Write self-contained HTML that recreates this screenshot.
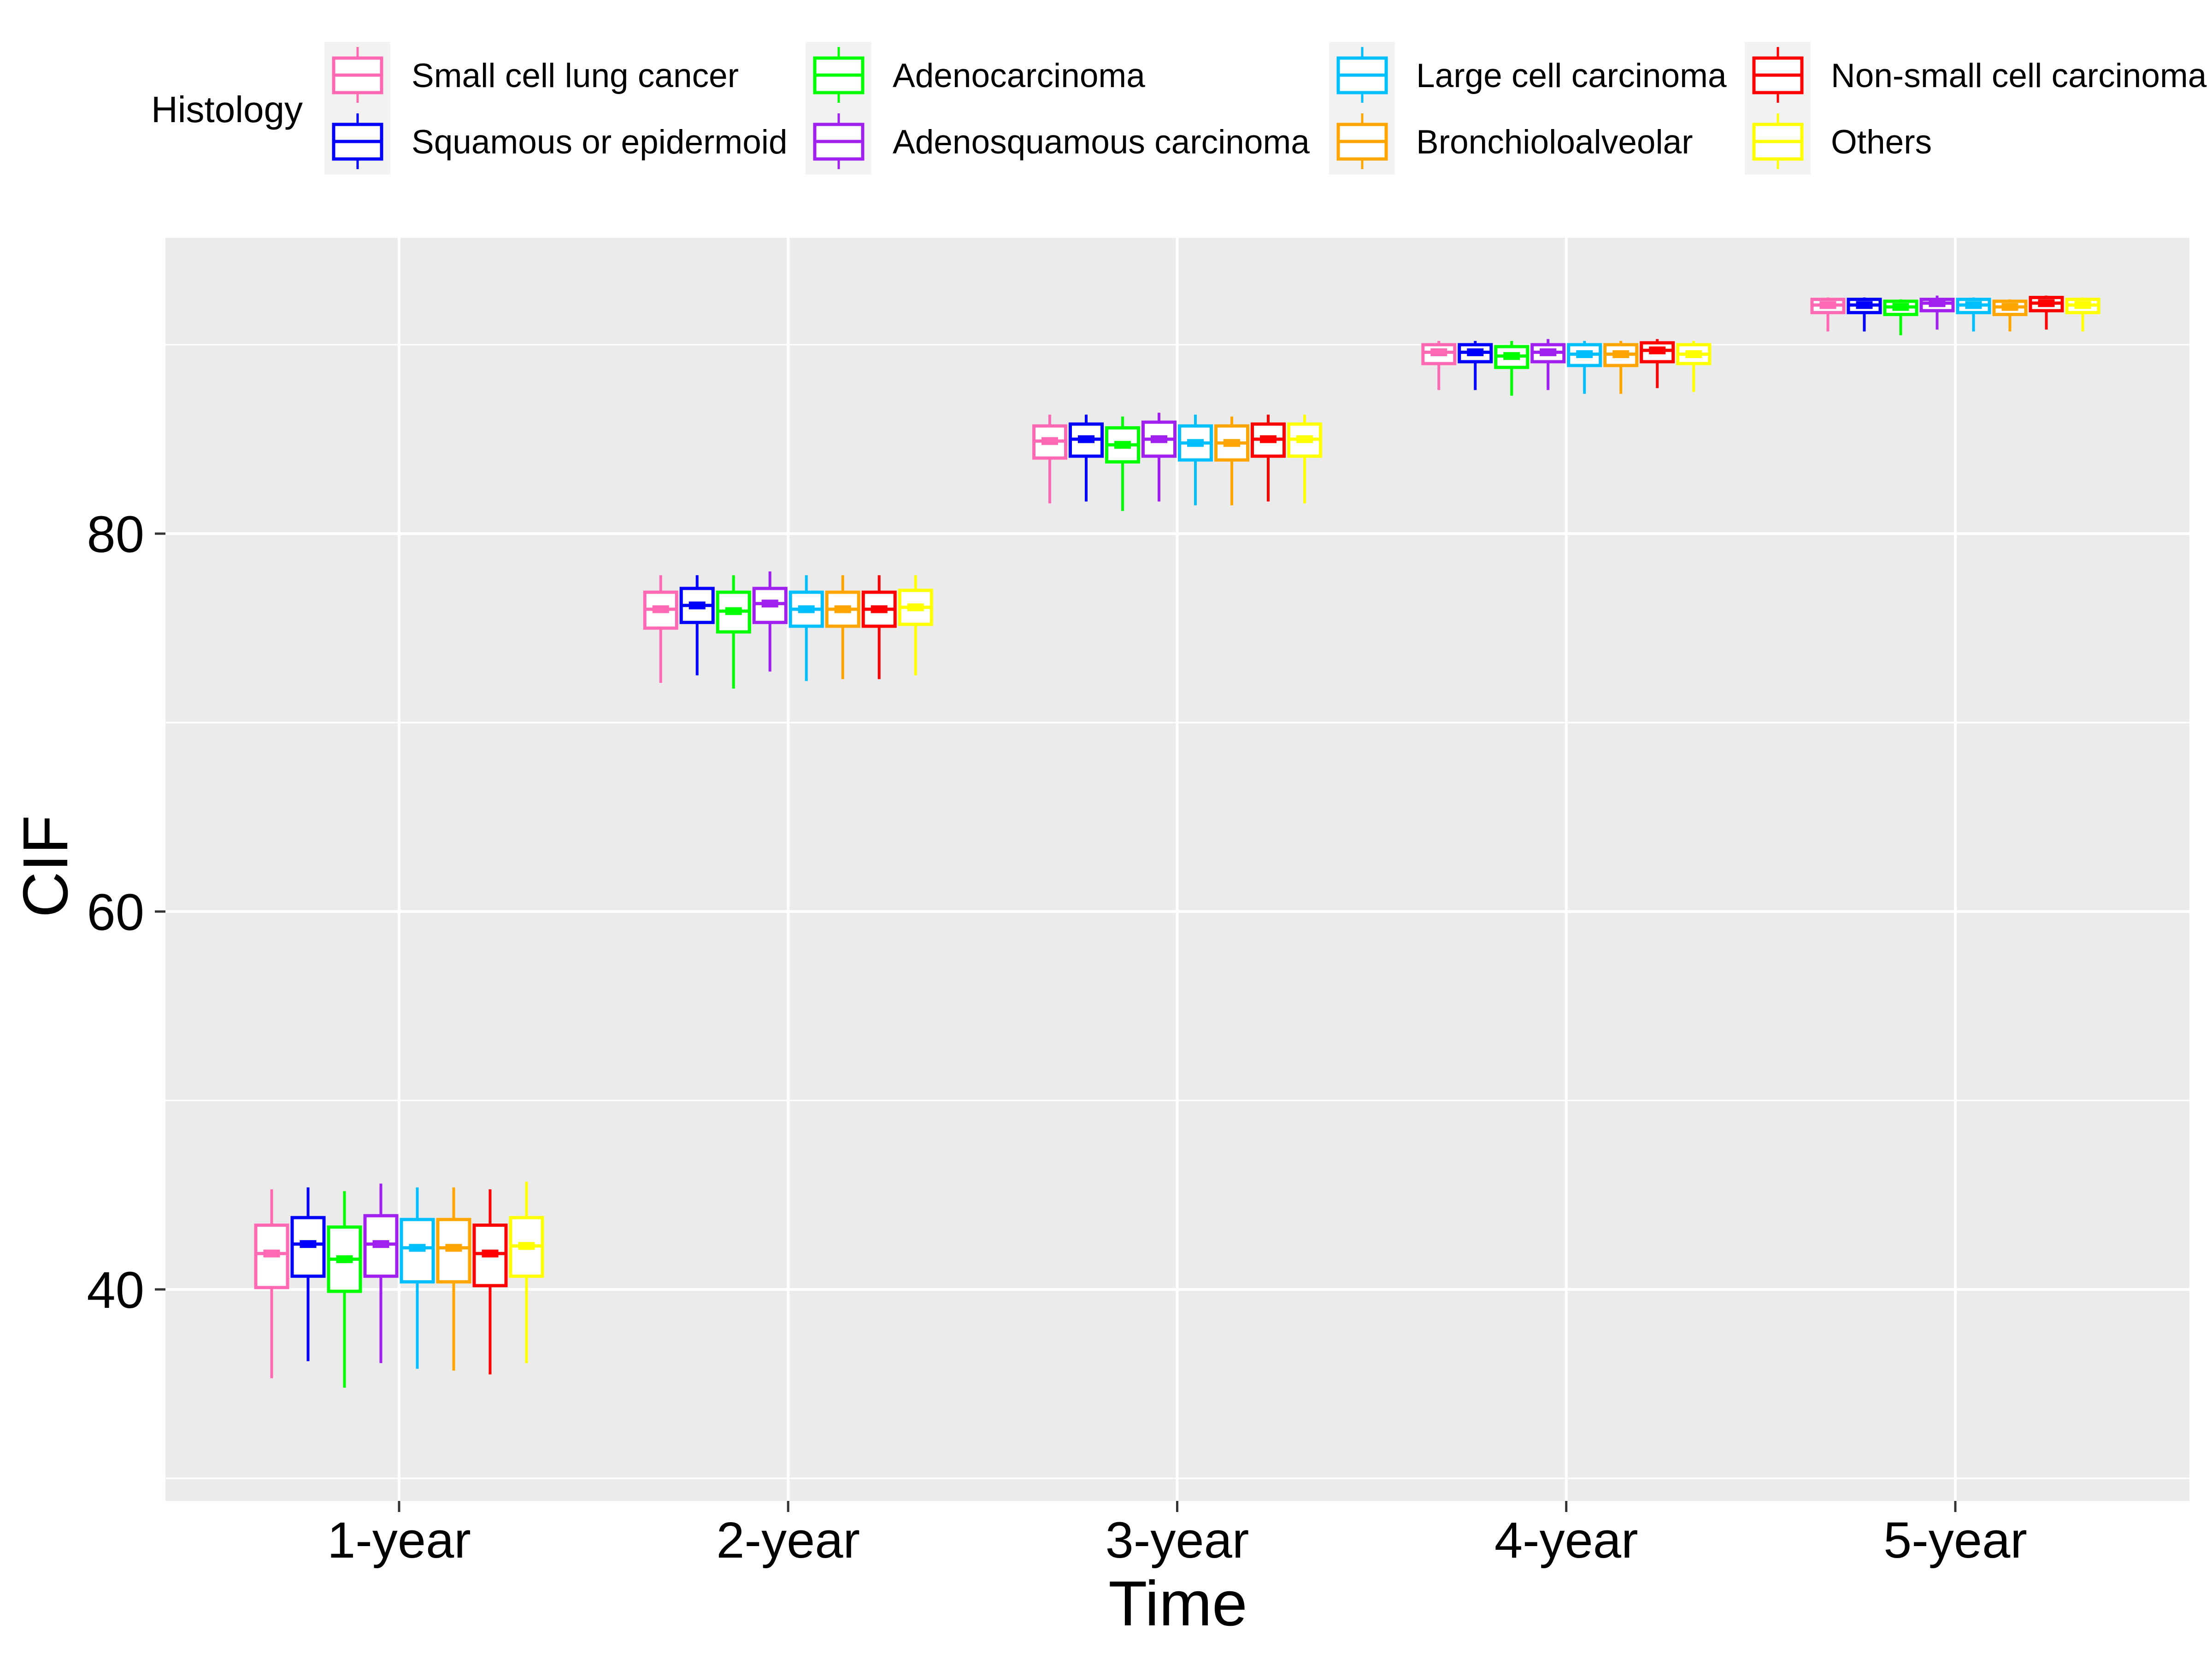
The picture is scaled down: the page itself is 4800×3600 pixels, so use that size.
<!DOCTYPE html>
<html><head><meta charset="utf-8"><style>
html,body{margin:0;padding:0;background:#fff}
svg{display:block}
text{font-family:"Liberation Sans",Arial,sans-serif}
</style></head><body>
<svg id="chart" width="4800" height="3600" viewBox="0 0 4800 3600" xmlns="http://www.w3.org/2000/svg">
<rect x="0" y="0" width="4800" height="3600" fill="#fff"/>
<rect x="359" y="516" width="4392" height="2741" fill="#EBEBEB"/>
<g id="grid"></g><g id="boxes"></g><g id="axes"></g><g id="legend"></g>
<text x="2556" y="3527" font-size="138" text-anchor="middle">Time</text>
<text x="0" y="0" font-size="138" text-anchor="middle" transform="translate(146,1880) rotate(-90)">CIF</text>
<text x="328" y="265" font-size="80">Histology</text>
</svg>
<script>
const categories = ["1-year","2-year","3-year","4-year","5-year"];
const seriesNames = ["Small cell lung cancer","Squamous or epidermoid","Adenocarcinoma","Adenosquamous carcinoma","Large cell carcinoma","Bronchioloalveolar","Non-small cell carcinoma","Others"];
const seriesColors = ["#FF69B4","#0000FF","#00FF00","#A020F0","#00BFFF","#FFA500","#FF0000","#FFFF00"];
const yTicks = [40,60,80];
const yMinor = [30,50,70,90];
// per series: values for 1..5 year
const lowW = [[35.3,72.1,81.6,87.6,90.7],[36.2,72.5,81.7,87.6,90.7],[34.8,71.8,81.2,87.3,90.5],[36.1,72.7,81.7,87.6,90.8],[35.8,72.2,81.5,87.4,90.7],[35.7,72.3,81.5,87.4,90.7],[35.5,72.3,81.7,87.7,90.8],[36.1,72.5,81.6,87.5,90.7]];
const q1 = [[40.1,75.0,84.0,89.0,91.7],[40.7,75.3,84.1,89.1,91.7],[39.9,74.8,83.8,88.8,91.6],[40.7,75.3,84.1,89.1,91.8],[40.4,75.1,83.9,88.9,91.7],[40.4,75.1,83.9,88.9,91.6],[40.2,75.1,84.1,89.1,91.8],[40.7,75.2,84.1,89.0,91.7]];
const med = [[41.9,76.0,84.9,89.6,92.1],[42.4,76.2,85.0,89.6,92.1],[41.6,75.9,84.7,89.4,92.0],[42.4,76.3,85.0,89.6,92.2],[42.2,76.0,84.8,89.5,92.1],[42.2,76.0,84.8,89.5,92.0],[41.9,76.0,85.0,89.7,92.2],[42.3,76.1,85.0,89.5,92.1]];
const q3 = [[43.4,76.9,85.7,90.0,92.4],[43.8,77.1,85.8,90.0,92.4],[43.3,76.9,85.6,89.9,92.3],[43.9,77.1,85.9,90.0,92.4],[43.7,76.9,85.7,90.0,92.4],[43.7,76.9,85.7,90.0,92.3],[43.4,76.9,85.8,90.1,92.5],[43.8,77.0,85.8,90.0,92.4]];
const highW = [[45.3,77.8,86.3,90.2,92.5],[45.4,77.8,86.3,90.2,92.5],[45.2,77.8,86.2,90.2,92.4],[45.6,78.0,86.4,90.3,92.6],[45.4,77.8,86.3,90.2,92.5],[45.4,77.8,86.2,90.2,92.4],[45.3,77.8,86.3,90.3,92.6],[45.7,77.8,86.3,90.2,92.5]];

const NS="http://www.w3.org/2000/svg";
const PX0=359,PX1=4751,PY0=516,PY1=3257;
function yS(v){return 1158+(80-v)*41;}
function xS(i){return 866+i*844.25;}
function dodge(j){return (j-3.5)*79;}
function mk(tag,attrs,parent){const e=document.createElementNS(NS,tag);for(const k in attrs)e.setAttribute(k,attrs[k]);parent.appendChild(e);return e;}
const grid=document.getElementById('grid'),boxes=document.getElementById('boxes'),axes=document.getElementById('axes'),legend=document.getElementById('legend');
yMinor.forEach(v=>{const l=mk('line',{x1:PX0,x2:PX1,y1:yS(v),y2:yS(v),stroke:'#fff','stroke-width':3},grid);

});
yTicks.forEach(v=>{const l=mk('line',{x1:PX0,x2:PX1,y1:yS(v),y2:yS(v),stroke:'#fff','stroke-width':6},grid);


const t=mk('line',{x1:336,x2:359,y1:yS(v),y2:yS(v),stroke:'#333','stroke-width':5},axes);


const tx=mk('text',{x:313,y:yS(v)+40,'font-size':112,'text-anchor':'end',fill:'#000'},axes);tx.textContent=v;

});
categories.forEach((c,i)=>{const l=mk('line',{x1:xS(i),x2:xS(i),y1:PY0,y2:PY1,stroke:'#fff','stroke-width':6},grid);


const t=mk('line',{x1:xS(i),x2:xS(i),y1:PY1,y2:PY1+24,stroke:'#333','stroke-width':5},axes);


const tx=mk('text',{x:xS(i),y:3380,'font-size':110,'text-anchor':'middle',fill:'#000'},axes);tx.textContent=c;

});
seriesNames.forEach((s,j)=>{const col=seriesColors[j];
 categories.forEach((c,i)=>{const cx=xS(i)+dodge(j);
  const g=mk('g',{},boxes);
  
  
  mk('line',{x1:cx,x2:cx,y1:yS(highW[j][i]),y2:yS(q3[j][i]),stroke:col,'stroke-width':6},g);
  mk('line',{x1:cx,x2:cx,y1:yS(q1[j][i]),y2:yS(lowW[j][i]),stroke:col,'stroke-width':6},g);
  mk('rect',{x:cx-34.5,y:yS(q3[j][i]),width:69,height:yS(q1[j][i])-yS(q3[j][i]),fill:'#fff',stroke:col,'stroke-width':7},g);
  mk('line',{x1:cx-34.5,x2:cx+34.5,y1:yS(med[j][i]),y2:yS(med[j][i]),stroke:col,'stroke-width':7},g);
  mk('rect',{x:cx-18,y:yS(med[j][i])-8.5,width:36,height:17,fill:col},g);
 });
});
const legX=[704,1748,2884,3786],legTX=[893,1937,3073,3973],legY=[163,307];
seriesNames.forEach((s,j)=>{const col=seriesColors[j];const cidx=Math.floor(j/2),r=j%2;
 const kx=legX[cidx],cy=legY[r];
 const g=mk('g',{},legend);
 
 
 mk('rect',{x:kx,y:cy-72,width:143,height:144,fill:'#F2F2F2'},g);
 mk('line',{x1:kx+72,x2:kx+72,y1:cy-61,y2:cy+60,stroke:col,'stroke-width':5},g);
 mk('rect',{x:kx+20,y:cy-37,width:104,height:75,fill:'#fff',stroke:col,'stroke-width':7},g);
 mk('line',{x1:kx+20,x2:kx+124,y1:cy,y2:cy,stroke:col,'stroke-width':7},g);
 const t=mk('text',{x:legTX[cidx],y:cy+26,'font-size':73,fill:'#000'},g);t.textContent=s;
});
</script>
</body></html>
